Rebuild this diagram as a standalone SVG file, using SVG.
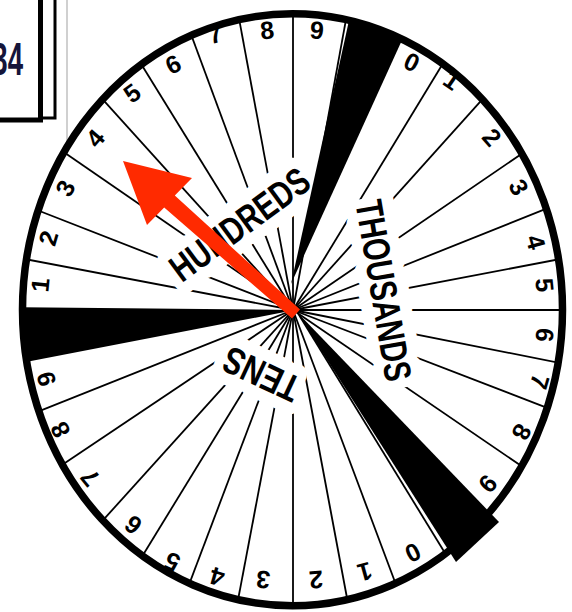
<svg xmlns="http://www.w3.org/2000/svg" width="572" height="612" viewBox="0 0 572 612">
<defs>
<clipPath id="wheel"><ellipse cx="292.5" cy="309.75" rx="270" ry="296"/></clipPath>
<style>
.ln{stroke:#000;stroke-width:1.8}
.d{font-family:'Liberation Sans',Arial,sans-serif;font-weight:bold;font-size:25px;text-anchor:middle;fill:#000}
.w{font-family:'Liberation Sans',Arial,sans-serif;font-weight:bold;font-size:38px;text-anchor:middle;fill:#000;stroke:#fff;stroke-width:24px;stroke-linejoin:round;paint-order:stroke}
.wedge{fill:#000}
</style>
</defs>
<rect width="572" height="612" fill="#fff"/>
<g id="number-box">
<line x1="67" y1="0" x2="67" y2="148" stroke="#c0c0c0" stroke-width="1.5"/>
<rect x="-5" y="-5" width="60" height="123" fill="#fff" stroke="#000" stroke-width="3"/>
<rect x="-10" y="-10" width="50.5" height="130" fill="#fff" stroke="#000" stroke-width="5"/>
<text transform="translate(23 75) scale(0.6 1)" text-anchor="end" font-family="'Liberation Sans',Arial,sans-serif" font-weight="bold" font-size="46" fill="#15153a">34</text>
</g>
<g id="wheel-face">
<ellipse cx="292.5" cy="309.75" rx="270" ry="296" fill="#fff"/>
</g>
<g id="connectors" clip-path="url(#wheel)">
<line class="ln" x1="293" y1="310" x2="3.7" y2="255"/>
<line class="ln" x1="293" y1="310" x2="16.9" y2="202.2"/>
<line class="ln" x1="293" y1="310" x2="42.2" y2="137.3"/>
<line class="ln" x1="293" y1="310" x2="86.2" y2="81.2"/>
<line class="ln" x1="293" y1="310" x2="128" y2="42.7"/>
<line class="ln" x1="293" y1="310" x2="181.9" y2="9.7"/>
<line class="ln" x1="293" y1="310" x2="232.5" y2="-16.7"/>
<line class="ln" x1="293" y1="310" x2="293" y2="-17.8"/>
<line class="ln" x1="293" y1="310" x2="352.4" y2="-15.6"/>
<line class="ln" x1="293" y1="310" x2="456.9" y2="40.5"/>
<line class="ln" x1="293" y1="310" x2="498.7" y2="81.2"/>
<line class="ln" x1="293" y1="310" x2="539.4" y2="141.7"/>
<line class="ln" x1="293" y1="310" x2="568" y2="200"/>
<line class="ln" x1="293" y1="310" x2="581.2" y2="255"/>
<line class="ln" x1="293" y1="310" x2="588.9" y2="310"/>
<line class="ln" x1="293" y1="310" x2="581.2" y2="367.2"/>
<line class="ln" x1="293" y1="310" x2="570.2" y2="416.7"/>
<line class="ln" x1="293" y1="310" x2="539.4" y2="478.3"/>
<line class="ln" x1="296" y1="310" x2="455.4" y2="570"/>
<line class="ln" x1="293" y1="310" x2="405.2" y2="609.2"/>
<line class="ln" x1="293" y1="310" x2="352.4" y2="626.8"/>
<line class="ln" x1="293" y1="310" x2="293" y2="634.5"/>
<line class="ln" x1="293" y1="310" x2="232.5" y2="629"/>
<line class="ln" x1="293" y1="310" x2="179.7" y2="609.2"/>
<line class="ln" x1="293" y1="310" x2="128" y2="579.5"/>
<line class="ln" x1="293" y1="310" x2="86.2" y2="538.8"/>
<line class="ln" x1="293" y1="310" x2="42.2" y2="478.3"/>
<line class="ln" x1="293" y1="310" x2="16.9" y2="420"/>
</g>
<g id="sector-titles">
<text id="hundreds" class="w" transform="translate(239.5 224) rotate(-36.3)" y="13.6" textLength="163" lengthAdjust="spacingAndGlyphs">HUNDREDS</text>
<text id="thousands" class="w" transform="translate(384 290.5) rotate(80.3)" y="13.6" textLength="183" lengthAdjust="spacingAndGlyphs">THOUSANDS</text>
<text id="tens" class="w" transform="translate(261 375) rotate(205)" y="14" textLength="80" lengthAdjust="spacingAndGlyphs" font-size="39">TENS</text>
</g>
<g id="wedges">
<g clip-path="url(#wheel)">
<polygon class="wedge" points="291,284 355.7,-10 424.8,-10"/>
<polygon class="wedge" points="295,310 10,307 10,365"/>
</g>
<polygon class="wedge" points="296,311 499,522 456,562"/>
</g>
<g id="rim">
<ellipse cx="292.5" cy="309.75" rx="270" ry="296" fill="none" stroke="#000" stroke-width="7.5"/>
</g>
<g id="hundreds-digits">
<text class="d" transform="translate(40 285) rotate(-84.4)" y="9">1</text>
<text class="d" transform="translate(48 238) rotate(-73.6)" y="9">2</text>
<text class="d" transform="translate(65 188) rotate(-61.8)" y="9">3</text>
<text class="d" transform="translate(95 138) rotate(-49)" y="9">4</text>
<text class="d" transform="translate(132 93) rotate(-36.6)" y="9">5</text>
<text class="d" transform="translate(173 64) rotate(-26)" y="9">6</text>
<text class="d" transform="translate(215 34) rotate(-15.8)" y="9">7</text>
<text class="d" transform="translate(267 30) rotate(-5.3)" y="9">8</text>
<text class="d" transform="translate(317 30) rotate(4.9)" y="9">9</text>
</g>
<g id="thousands-digits">
<text class="d" transform="translate(412 62) rotate(25.6)" y="9">0</text>
<text class="d" transform="translate(452 80) rotate(34.7)" y="9">1</text>
<text class="d" transform="translate(492 137) rotate(49)" y="9">2</text>
<text class="d" transform="translate(519 187) rotate(61.4)" y="9">3</text>
<text class="d" transform="translate(536 242) rotate(74.4)" y="9">4</text>
<text class="d" transform="translate(545 285) rotate(84.3)" y="9">5</text>
<text class="d" transform="translate(545 335) rotate(95.7)" y="9">6</text>
<text class="d" transform="translate(540 382) rotate(106.3)" y="9">7</text>
<text class="d" transform="translate(522 432) rotate(118)" y="9">8</text>
<text class="d" transform="translate(488 484) rotate(131.7)" y="9">9</text>
</g>
<g id="tens-digits">
<text class="d" transform="translate(46 379) rotate(254.4)" y="9">9</text>
<text class="d" transform="translate(60 430) rotate(242.8)" y="9">8</text>
<text class="d" transform="translate(90 478) rotate(230.4)" y="9">7</text>
<text class="d" transform="translate(133 525) rotate(216.7)" y="9">6</text>
<text class="d" transform="translate(172 562) rotate(205.6)" y="9">5</text>
<text class="d" transform="translate(217 577) rotate(195.9)" y="9">4</text>
<text class="d" transform="translate(263 580) rotate(186.3)" y="9">3</text>
<text class="d" transform="translate(316 580) rotate(175.1)" y="9">2</text>
<text class="d" transform="translate(365 572) rotate(164.6)" y="9">1</text>
<text class="d" transform="translate(413 553) rotate(153.7)" y="9">0</text>
</g>
<g id="arrow">
<polygon points="123,161 192,178 174.8,195.5 300,309.5 292,318.5 164.2,207.5 147,225" fill="#ff2a00"/>
</g>
</svg>
